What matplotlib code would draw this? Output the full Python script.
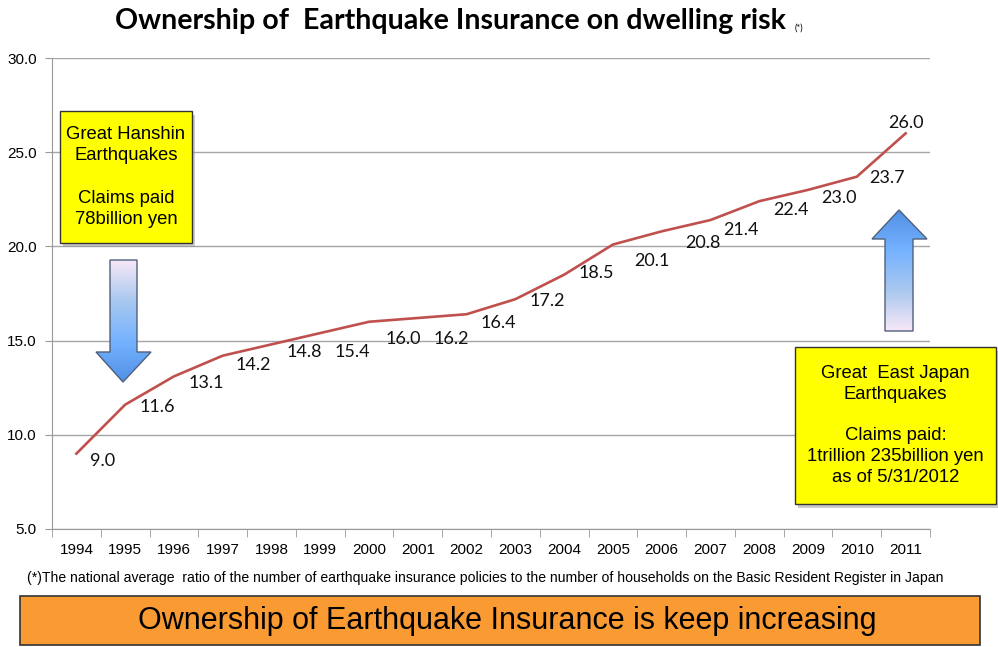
import numpy as np
import matplotlib.pyplot as plt
from matplotlib.patches import Polygon, Rectangle
from matplotlib.colors import LinearSegmentedColormap

# ~~~~~~~~~~~~~~~~~~~~~~~~~~~~~~~~~~~~~~~~~~~~~~~~~~~~~~~~~~~~~~~~~~~~~~~~~~~~~~~~~~~~~~~~

years = ['1994', '1995', '1996', '1997', '1998', '1999', '2000', '2001', '2002',
         '2003', '2004', '2005', '2006', '2007', '2008', '2009', '2010', '2011']
ownership = [9.0, 11.6, 13.1, 14.2, 14.8, 15.4, 16.0, 16.2, 16.4,
             17.2, 18.5, 20.1, 20.8, 21.4, 22.4, 23.0, 23.7, 26.0]
y_ticks = [5, 10, 15, 20, 25, 30]

# label offsets in pixels (right, down)
label_offsets = [(26, 7), (32, 2), (32, 7), (31, 9), (33, 8), (32, 19), (34, 17), (33, 21),
                 (32, 9), (32, 2), (32, -2), (39, 16), (41, 12), (30, 10), (32, 9),
                 (31, 8), (30, 1), (0, -10)]

title = 'Ownership of  Earthquake Insurance on dwelling risk'
footnote = ('(*)The national average  ratio of the number of earthquake insurance policies '
            'to the number of households on the Basic Resident Register in Japan')
banner = 'Ownership of Earthquake Insurance is keep increasing'
hanshin_text = 'Great Hanshin\nEarthquakes\n\nClaims paid\n78billion yen'
tohoku_text = 'Great  East Japan\nEarthquakes\n\nClaims paid:\n1trillion 235billion yen\nas of 5/31/2012'

narrow = ['Liberation Sans Narrow', 'Liberation Sans', 'DejaVu Sans']

# ~~~~~~~~~~~~~~~~~~~~~~~~~~~~~~~~~~~~~~~~~~~~~~~~~~~~~~~~~~~~~~~~~~~~~~~~~~~~~~~~~~~~~~~~

W, H = 998, 647
fig = plt.figure(figsize=(W / 100, H / 100), dpi=100)
ax = fig.add_axes([52 / W, 1 - 529 / H, (930 - 52) / W, (529 - 58) / H])

x = np.arange(len(years))
ax.plot(x, ownership, color='#c0504d', lw=1.9, zorder=3)

for i, v in enumerate(ownership):
    dx, dy = label_offsets[i]
    ax.annotate('%.1f' % v, (x[i], v), xytext=(dx, -dy), textcoords='offset pixels',
                ha='center', va='center', fontsize=13, family='Lato', color='#111111')

ax.set_xlim(-0.5, len(years) - 0.5)
ax.set_ylim(5, 30)
ax.set_yticks(y_ticks)
ax.set_yticklabels(['%.1f' % t for t in y_ticks], family=narrow, fontsize=11)
ax.set_xticks(x)
ax.set_xticklabels(years, family=narrow, fontsize=11)
ax.set_xticks(np.arange(len(years) + 1) - 0.5, minor=True)
ax.tick_params(axis='x', which='major', length=0, pad=10)
ax.tick_params(axis='x', which='minor', length=6, color='#999999', direction='out')
ax.tick_params(axis='y', length=5, color='#999999', pad=6)
ax.grid(axis='y', color='#a6a6a6', lw=1)
ax.set_axisbelow(True)
for s in ['top', 'right']:
    ax.spines[s].set_visible(False)
ax.spines['left'].set_color('#999999')
ax.spines['bottom'].set_color('#999999')

# overlay in pixel coordinates
ov = fig.add_axes([0, 0, 1, 1], zorder=5)
ov.set_xlim(0, W)
ov.set_ylim(H, 0)
ov.axis('off')

ov.text(450, 21, title, ha='center', va='center', fontsize=20.6, family='Lato',
        fontweight='bold')
ov.text(795, 28, '(*)', ha='left', va='center', fontsize=6.5, family='Lato')

ov.text(485, 578, footnote, ha='center', va='center', fontsize=10.1, family=narrow)


def yellow_box(x0, y0, x1, y1, txt, ls):
    ov.add_patch(Rectangle((x0 + 3, y0 + 4), x1 - x0, y1 - y0, fc='#999999', ec='none', alpha=0.5))
    ov.add_patch(Rectangle((x0, y0), x1 - x0, y1 - y0, fc='#ffff00', ec='#333333', lw=1))
    ov.text((x0 + x1) / 2, (y0 + y1) / 2, txt, ha='center', va='center', fontsize=13.3,
            family='Liberation Sans', linespacing=ls)


yellow_box(60, 111, 192, 243, hanshin_text, 1.32)
yellow_box(795, 347, 996, 504, tohoku_text, 1.28)

grad = LinearSegmentedColormap.from_list('g', ['#f8e8f8', '#a9c8ef', '#75b2ff', '#5090e6'])


def gradient_arrow(pts, x0, x1, y0, y1, up):
    poly = Polygon(pts, closed=True, fc='none', ec='#50607a', lw=1, zorder=7)
    ov.add_patch(poly)
    g = np.linspace(0, 1, 256).reshape(-1, 1)
    if up:
        g = g[::-1]
    im = ov.imshow(g, cmap=grad, extent=(x0, x1, y1, y0), aspect='auto', zorder=6)
    im.set_clip_path(poly)


gradient_arrow([(110, 260), (137, 260), (137, 352), (151, 352), (123, 382), (96, 352), (110, 352)],
               96, 151, 260, 382, up=False)
gradient_arrow([(885, 331), (913, 331), (913, 239), (927, 239), (899, 210), (872, 239), (885, 239)],
               872, 927, 210, 331, up=True)

ov.add_patch(Rectangle((20, 596), 960, 49, fc='#fa9a33', ec='#333333', lw=1.2))
ov.text(507, 621, banner, ha='center', va='center', fontsize=22, family='Liberation Sans')

ov.set_xlim(0, W)
ov.set_ylim(H, 0)

fig.savefig('out.png', dpi=100)
